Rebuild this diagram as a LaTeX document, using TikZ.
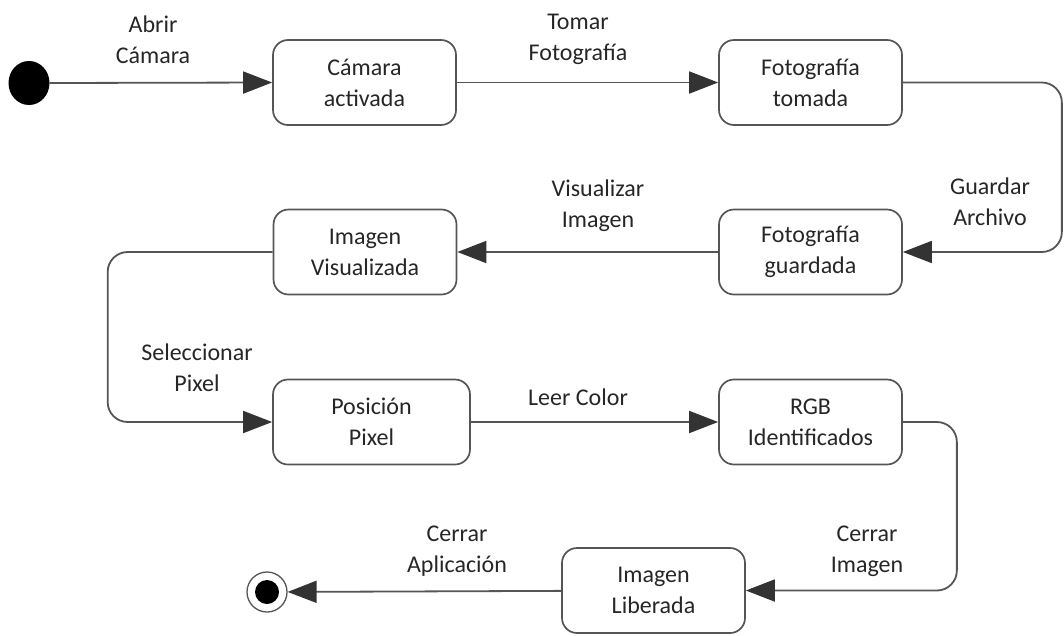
\documentclass[tikz,border=0pt]{standalone}
\usepackage{fontspec}
\setmainfont{Carlito}
\usetikzlibrary{arrows.meta,shapes.geometric}
\definecolor{linea}{HTML}{555555}
\definecolor{punta}{HTML}{333333}
\definecolor{texto}{HTML}{262626}

\begin{document}
\begin{tikzpicture}[x=1pt,y=-1pt,
    every node/.style={font=\fontsize{24}{31}\selectfont, text=texto},
    estado/.style={draw=linea, line width=1.7pt, rounded corners=15pt,
      minimum width=183pt, minimum height=85pt, inner sep=0pt, align=center},
    flecha/.style={draw=linea, line width=1.8pt,
      -{Triangle[length=29pt,width=22pt,color=punta]}},
    etiqueta/.style={align=center}]
  \useasboundingbox (0,0) rectangle (1064,635);

  \node[ellipse, fill=black, minimum width=41pt, minimum height=44pt, inner sep=0pt] (ini) at (29,83) {};
  \node[circle, draw=linea, line width=1.3pt, fill=white, minimum size=40pt, inner sep=0pt,
    path picture={\fill[black] (path picture bounding box.center) circle (12pt);}] (fin) at (267,592) {};

  \node[estado] (camara) at (364.5,82.5) {Cámara\\activada};
  \node[estado] (foto) at (810.5,82.5) {Fotografía\\tomada};
  \node[estado] (guardada) at (810.5,252) {Fotografía\\guardada};
  \node[estado] (visual) at (365,252) {Imagen\\Visualizada};
  \node[estado, minimum width=197pt] (posicion) at (371.5,422) {Posición\\Pixel};
  \node[estado] (rgb) at (810.5,422) {RGB\\Identificados};
  \node[estado] (liberada) at (653.5,590.5) {Imagen\\Liberada};

  \draw[flecha] (ini.east) -- (camara.west);
  \draw[flecha] (camara) -- (foto);
  \draw[flecha, rounded corners=20pt] (foto.east) -- ++(159,0) |- (guardada.east);
  \draw[flecha] (guardada) -- (visual);
  \draw[flecha, rounded corners=20pt] (visual.west) -- ++(-165,0) |- (posicion.west);
  \draw[flecha] (posicion) -- (rgb);
  \draw[flecha, rounded corners=20pt] (rgb.east) -- ++(54,0) |- (liberada.east);
  \draw[flecha] (liberada) -- (fin);

  \node[etiqueta] (lAbrir) at (153,40) {Abrir\\Cámara};
  \node[etiqueta] (lTomar) at (578,39) {Tomar\\Fotografía};
  \node[etiqueta] (lGuardar) at (990,202) {Guardar\\Archivo};
  \node[etiqueta] (lVisual) at (598,206) {Visualizar\\Imagen};
  \node[etiqueta] (lSelec) at (197,368) {Seleccionar\\Pixel};
  \node[etiqueta] (lLeer) at (578,397) {Leer Color};
  \node[etiqueta] (lCerrarI) at (867,551) {Cerrar\\Imagen};
  \node[etiqueta] (lCerrarA) at (457,551) {Cerrar\\Aplicación};
\end{tikzpicture}
\end{document}
